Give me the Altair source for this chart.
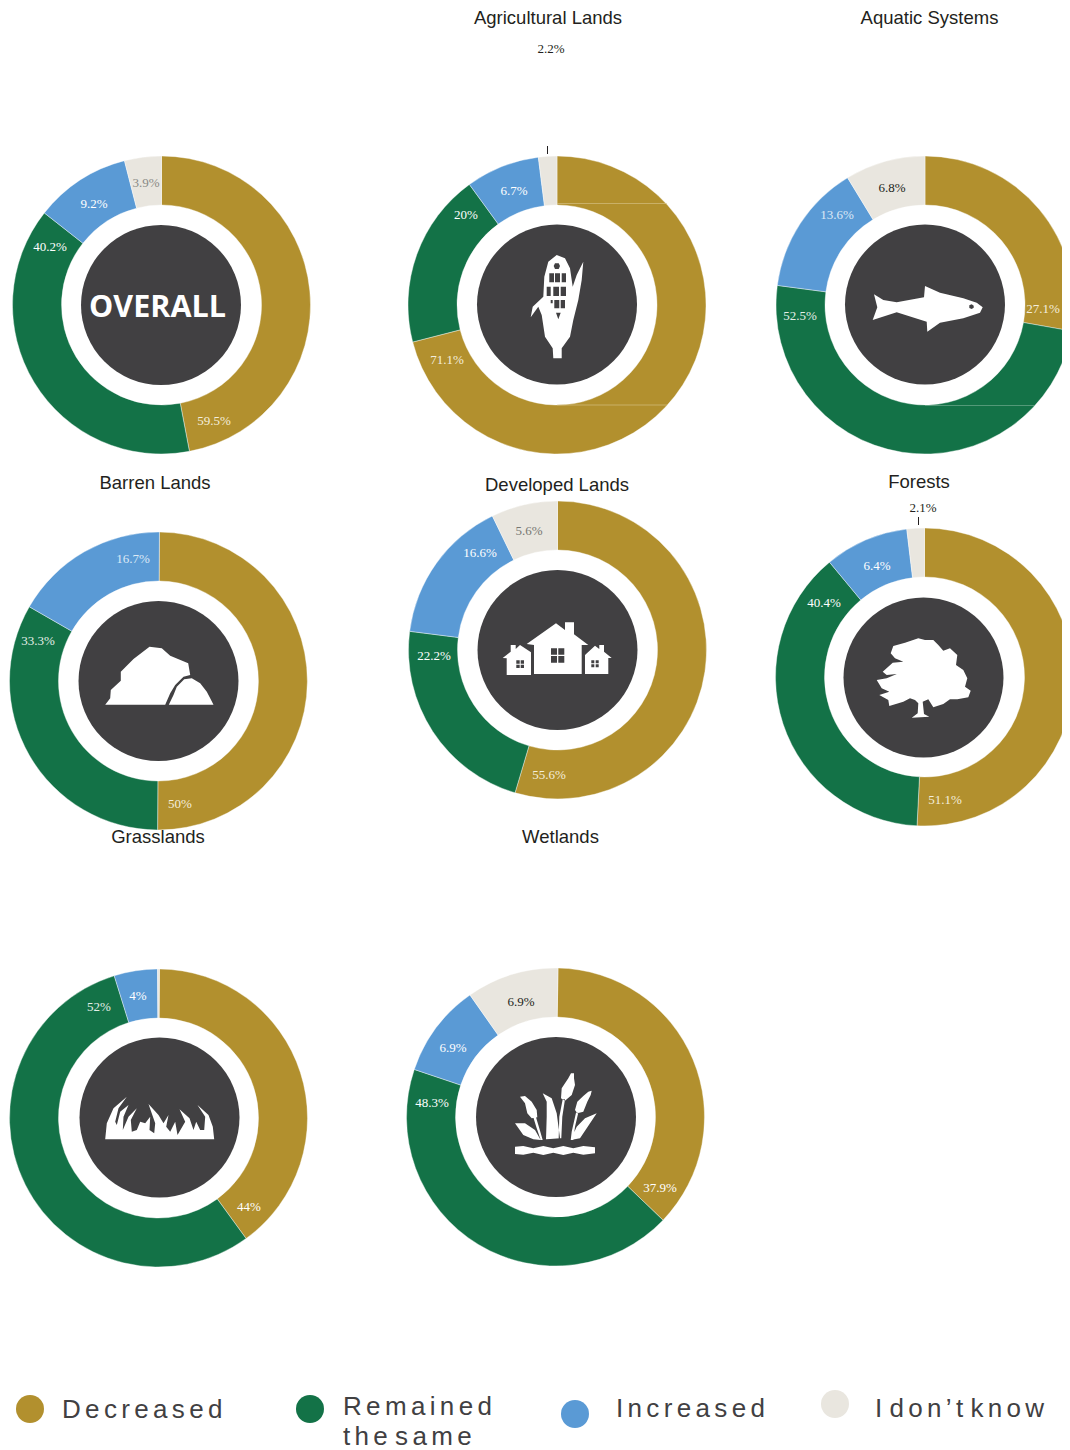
import altair as alt
import pandas as pd

CATS = ["Decreased", "Remained the same", "Increased", "I don't know"]
COLS = ["#B2902E", "#137247", "#5A9AD5", "#E9E6DF"]
DARK = "#414042"

# share of each ring (percent of the circle), as drawn
overall = [47.0, 38.6, 10.4, 4.0]
agricultural = [71.0, 19.0, 8.0, 2.0]
aquatic = [27.8, 49.3, 14.2, 8.7]
barren = [50.0, 33.2, 16.8, 0.0]
developed = [54.6, 22.4, 15.8, 7.2]
forests = [50.8, 38.2, 9.1, 1.9]
grasslands = [39.9, 55.2, 4.7, 0.2]
wetlands = [36.9, 43.0, 10.1, 10.0]
series = [overall, agricultural, aquatic, barren, developed, forests, grasslands, wetlands]
# slight turn of a ring's starting point, in percent of the circle
turns = [0, 0, 0, 0.1, 0, 0, 0.1, 0.27]

# ring centres on the page
centres = [(161.5, 305), (557, 305), (925, 305), (158.5, 681),
           (557.5, 650), (924.5, 677), (158.5, 1118), (555.5, 1117)]
OFF = 8

titles = ["Agricultural Lands", "Aquatic Systems", "Barren Lands", "Developed Lands",
          "Forests", "Grasslands", "Wetlands"]
title_pos = [(548, 18), (929.5, 18), (155, 483), (557, 485), (919, 482), (158, 837), (560.5, 837)]

labels = ["59.5%", "40.2%", "9.2%", "3.9%", "2.2%", "6.7%", "20%", "71.1%",
          "27.1%", "52.5%", "13.6%", "6.8%", "50%", "33.3%", "16.7%",
          "55.6%", "22.2%", "16.6%", "5.6%", "51.1%", "40.4%", "6.4%", "2.1%",
          "44%", "52%", "4%", "37.9%", "48.3%", "6.9%", "6.9%"]
label_pos = [(214, 421), (50, 247), (94, 204), (146, 183), (551, 49), (514, 191), (466, 215), (447, 360),
             (1043, 309), (800, 316), (837, 215), (892, 188), (180, 804), (38, 641), (133, 559),
             (549, 775), (434, 656), (480, 553), (529, 531), (945, 800), (824, 603), (877, 566), (923, 508),
             (249, 1207), (99, 1007), (138, 996), (660, 1188), (432, 1103), (453, 1048), (521, 1002)]
W, I, D, G = "#FFFFFF", "#F4EEDC", "#231F20", "#8A8A86"
label_col = [I, W, W, G, D, W, W, I,
             I, "#E4EFE8", "#DCE9F5", D, I, "#E4EFE8", "#DCE9F5",
             I, W, W, "#777772", I, W, W, D,
             W, "#E4EFE8", W, W, W, W, D]

legend_text = ["Decreased", "Remained", "the same", "Increased", "I don\u2019t know"]
legend_text_pos = [(62, 1418), (343, 1415), (343, 1445), (616, 1417), (875, 1417)]
legend_dots = [(30, 1409), (310, 1409), (575, 1414), (835, 1404)]

HAIR = "\u200a"
def spaced(s):
    return " ".join((HAIR * 2).join(word) for word in s.split(" "))

def poly(points, ox, oy, s=3.0):
    p = [f"{(x - ox) / s:.1f},{(y - oy) / s:.1f}" for x, y in points]
    return "M" + "L".join(p) + "Z"

def box(x0, y0, x1, y1):
    return [(x0, y0), (x1, y0), (x1, y1), (x0, y1)]

# icon outlines: (parts in white, parts in dark, centre)
rock_o = (295, 183)
rock_w = [[(135,254),(150,235),(152,210),(182,182),(182,155),(220,117),(268,80),(305,85),(330,107),(384,130),
           (390,165),(370,170),(345,195),(330,220),(315,254)],
          [(326,254),(340,225),(350,200),(372,178),(395,175),(420,190),(440,215),(450,235),(460,254)]]

house_o = (232.5, 150)
house_w = [[(140,132),(228,70),(255,90),(255,67),(282,67),(282,103),(325,135),(305,135),(305,222),(162,222),(162,135)],
           [(68,174),(92,155),(92,135),(107,135),(107,147),(120,135),(153,157),(153,225),(80,225),(80,175)],
           [(315,165),(345,137),(358,147),(358,135),(372,135),(372,155),(395,174),(385,174),(385,222),(315,222)]]
house_d = [box(213,145,231,164), box(235,145,253,164), box(213,168,231,188), box(235,168,253,188),
           box(109,181,119,191), box(122,181,132,191), box(109,194,119,204), box(122,194,132,204),
           box(334,181,343,190), box(347,181,356,190), box(334,193,343,202), box(347,193,356,202)]

tree_o = (220.5, 172.5)
tree_w = [[(185,293),(238,290),(222,282),(218,245),(235,238),(250,262),(280,252),(300,238),(322,238),(355,232),(362,212),
           (345,200),(352,175),(340,150),(318,135),(322,105),(300,85),(280,92),(265,75),(250,60),(225,60),(205,55),(165,68),
           (130,78),(122,100),(135,115),(160,125),(128,128),(98,155),(110,165),(140,162),(110,175),(80,180),(95,205),(118,215),
           (88,225),(115,240),(118,258),(160,245),(180,235),(195,240),(205,250),(203,280)]]

fish_o = (225, 105)
fish_w = [[(72,73),(100,90),(140,97),(222,82),(225,48),(270,68),(340,85),(380,98),(398,112),(390,128),(340,145),
           (270,158),(232,185),(230,155),(140,127),(68,150),(82,112)]]
fish_d = [[(358,106),(365,103),(371,107),(371,113),(365,117),(358,114)]]

grass_o = (208, 112.5)
grass_w = [[(45,178),(50,130),(70,85),(110,50),(85,85),(75,125),(80,135),(90,95),(115,75),(100,110),(98,150),(115,110),
            (140,85),(122,120),(125,155),(140,150),(150,125),(165,130),(180,110),(178,150),(192,160),(195,130),(175,72),
            (205,105),(220,130),(235,105),(228,140),(240,155),(255,125),(262,165),(285,125),(268,88),(298,115),(310,150),
            (318,125),(330,150),(342,150),(345,110),(322,75),(355,105),(368,140),(372,178)]]

reed_o = (168, 171)
reed_w = [[(222,40),(222,55),(225,75),(215,105),(195,122),(183,115),(185,85),(205,55),(213,40)],
          [(195,118),(188,118),(178,170),(176,235),(184,235),(187,170)],
          [(275,92),(272,105),(262,125),(250,155),(232,160),(225,150),(232,125),(250,108),(265,95)],
          [(235,158),(228,158),(215,215),(212,240),(220,240),(225,200)],
          [(60,110),(75,108),(95,125),(110,150),(112,172),(95,175),(82,160),(75,130)],
          [(100,172),(108,172),(118,205),(128,240),(122,240),(110,205)],
          [(128,100),(155,115),(170,160),(180,235),(150,237),(138,238),(140,170),(140,125)],
          [(45,190),(75,190),(105,210),(122,240),(100,238),(70,225)],
          [(290,160),(255,175),(230,200),(212,240),(240,235),(260,205)],
          [(45,260),(70,258),(100,265),(130,258),(160,265),(190,258),(220,265),(250,258),(285,262),
           (285,280),(250,284),(220,278),(190,285),(160,278),(130,285),(100,278),(70,284),(45,282)]]

corn_o = (141, 193.5)
corn_w = [[(140,45),(165,55),(180,85),(188,140),(200,105),(220,65),(215,120),(205,180),(190,240),(180,290),(155,325),
           (155,355),(130,355),(128,325),(105,290),(95,225),(85,200),(62,232),(68,200),(100,170),(103,110),(115,65)]]
corn_d = [[(135,70),(146,70),(150,78),(146,87),(135,87),(131,78)],
          box(118,100,132,127), box(135,100,150,127), box(155,100,168,127),
          box(110,140,122,168), box(130,140,147,168), box(152,140,168,168),
          box(122,180,128,190), box(133,180,148,205), box(152,180,165,205),
          [(138,218),(152,218),(145,238)]]

icons = [(rock_w, [], rock_o, 3, (158.5, 681)),
         (house_w, house_d, house_o, 3, (557.5, 650)),
         (tree_w, [], tree_o, 3, (923.5, 677.5)),
         (fish_w, fish_d, fish_o, 3, (925, 305)),
         (grass_w, [], grass_o, 3, (159.5, 1117.5)),
         (reed_w, [], reed_o, 3, (556, 1117)),
         (corn_w, corn_d, corn_o, 3, (557, 304.5))]

# build tables
rows = []
for vals, (cx, cy), turn in zip(series, centres, turns):
    run = turn
    tot = sum(vals)
    for c, v in zip(CATS, vals):
        if v > 0:
            rows.append(dict(cat=c, start=run / tot * 100, end=(run + v) / tot * 100, cx=cx - OFF, cy=cy - OFF))
        run += v
arcs = pd.DataFrame(rows)

col_scale = alt.Scale(domain=CATS, range=COLS)
ring = alt.Chart(arcs).mark_arc(radius=149, radius2=100, stroke="#FFFFFF", strokeWidth=0.4).encode(
    x=alt.X("cx:Q", scale=None, axis=None),
    y=alt.Y("cy:Q", scale=None, axis=None),
    theta=alt.Theta("start:Q", stack=None, scale=alt.Scale(domain=[0, 100], range=[0, 6.283185307])),
    theta2="end:Q",
    color=alt.Color("cat:N", scale=col_scale, legend=None),
)

hub_centres = [(161, 305), (557, 304.5), (925, 304.5), (158.5, 681), (557.5, 650),
               (923.5, 677.5), (159.5, 1117.5), (556, 1117)]
hubs = alt.Chart(pd.DataFrame([dict(x=x - OFF, y=y - OFF) for x, y in hub_centres])).mark_circle(
    size=25600, color=DARK, opacity=1).encode(
    x=alt.X("x:Q", scale=None, axis=None), y=alt.Y("y:Q", scale=None, axis=None))

def text_layer(strings, pos, cols, font, size, align="center", baseline="middle", weight="normal"):
    df = pd.DataFrame(dict(t=strings, x=[p[0] - OFF for p in pos], y=[p[1] - OFF for p in pos], c=cols))
    return alt.Chart(df).mark_text(font=font, fontSize=size, align=align, baseline=baseline, fontWeight=weight).encode(
        x=alt.X("x:Q", scale=None, axis=None), y=alt.Y("y:Q", scale=None, axis=None),
        text="t:N", color=alt.Color("c:N", scale=None))

title_layer = text_layer(titles, title_pos, ["#231F20"] * len(titles), "Liberation Sans", 18.5)
label_layer = text_layer(labels, label_pos, label_col, "Liberation Serif", 13)
overall_layer = text_layer(["OVERALL"], [(157.5, 308)], ["#FFFFFF"], "Open Sans", 30.5, weight="bold")
legend_layer = text_layer([spaced(s) for s in legend_text], legend_text_pos, [DARK] * 5,
                          "Liberation Sans", 26, align="left", baseline="alphabetic")

dots = alt.Chart(pd.DataFrame(dict(cat=CATS, x=[p[0] - OFF for p in legend_dots], y=[p[1] - OFF for p in legend_dots]))).mark_circle(
    size=784, opacity=1).encode(
    x=alt.X("x:Q", scale=None, axis=None), y=alt.Y("y:Q", scale=None, axis=None),
    color=alt.Color("cat:N", scale=col_scale, legend=None))

layers = [ring, hubs]
for white, dark, (ox, oy), s, (px, py) in icons:
    one = pd.DataFrame(dict(x=[px - OFF], y=[py - OFF]))
    for parts, colour in ((white, "#FFFFFF"), (dark, DARK)):
        if parts:
            d = "".join(poly(p, ox, oy, s) for p in parts)
            layers.append(alt.Chart(one).mark_point(shape=d, size=4, filled=True, color=colour, opacity=1, strokeWidth=0).encode(
                x=alt.X("x:Q", scale=None, axis=None), y=alt.Y("y:Q", scale=None, axis=None)))

# seams and leader ticks
def rule(x0, x1, y0, y1, colour, w):
    return alt.Chart(pd.DataFrame(dict(a=[0]))).mark_rule(color=colour, strokeWidth=w).encode(
        x=alt.value(x0 - OFF), x2=alt.value(x1 - OFF), y=alt.value(y0 - OFF), y2=alt.value(y1 - OFF))

layers += [rule(557, 667, 203.5, 203.5, "#D9C68E", 0.6), rule(557, 667, 405, 405, "#D9C68E", 0.6),
           rule(925, 1035, 405.5, 405.5, "#7FB39A", 0.6),
           rule(547.5, 547.5, 146, 154, "#231F20", 1), rule(918.5, 918.5, 517, 525, "#231F20", 1)]
layers += [title_layer, label_layer, overall_layer, dots, legend_layer]

chart = alt.layer(*layers).properties(width=1054, height=1442, padding=0,
    autosize=alt.AutoSizeParams(type="none")).configure_view(stroke=None)

chart.save("out.html", embed_options={"renderer": "svg", "actions": False})
